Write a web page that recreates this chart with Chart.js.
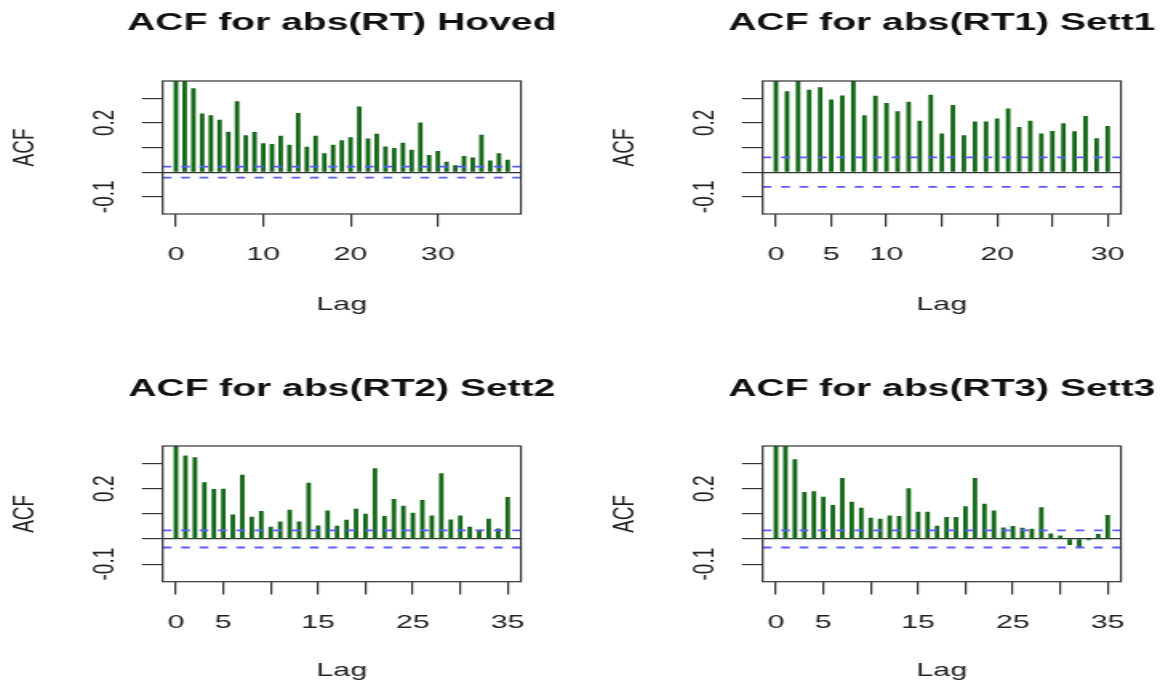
<!DOCTYPE html>
<html>
<head>
<meta charset="utf-8">
<script src="https://cdn.jsdelivr.net/npm/chart.js@4.4.1/dist/chart.umd.min.js"></script>
<style>
  body { margin: 0; background: #fff; }
  #wrap { position: relative; width: 1160px; height: 686px; overflow: hidden; }
  canvas { position: absolute; }
</style>
</head>
<body>
<div id="wrap">
  <canvas id="c1" width="360" height="343" style="left:0;top:0;width:576px;height:343px"></canvas>
  <canvas id="c2" width="350" height="343" style="left:600px;top:0;width:560px;height:343px"></canvas>
  <canvas id="c3" width="360" height="343" style="left:0;top:343px;width:576px;height:343px"></canvas>
  <canvas id="c4" width="350" height="343" style="left:600px;top:343px;width:560px;height:343px"></canvas>
</div>
<script>
// lags (categories)
const lagsHoved = [0,1,2,3,4,5,6,7,8,9,10,11,12,13,14,15,16,17,18,19,20,21,22,23,24,25,26,27,28,29,30,31,32,33,34,35,36,37,38];
const lagsSett1 = [0,1,2,3,4,5,6,7,8,9,10,11,12,13,14,15,16,17,18,19,20,21,22,23,24,25,26,27,28,29,30];
const lagsSett2 = [0,1,2,3,4,5,6,7,8,9,10,11,12,13,14,15,16,17,18,19,20,21,22,23,24,25,26,27,28,29,30,31,32,33,34,35];
const lagsSett3 = [0,1,2,3,4,5,6,7,8,9,10,11,12,13,14,15,16,17,18,19,20,21,22,23,24,25,26,27,28,29,30,31,32,33,34,35];

// ACF values
const acfHoved = [1, 0.45, 0.339, 0.237, 0.230, 0.211, 0.163, 0.286, 0.148, 0.162, 0.116, 0.113, 0.146, 0.110,
  0.239, 0.102, 0.146, 0.075, 0.110, 0.128, 0.140, 0.265, 0.135, 0.154, 0.103, 0.097, 0.118, 0.090, 0.200,
  0.068, 0.084, 0.041, 0.027, 0.064, 0.058, 0.150, 0.046, 0.075, 0.049];
const acfSett1 = [1, 0.327, 0.39, 0.333, 0.343, 0.294, 0.310, 0.38, 0.230, 0.309, 0.279, 0.246, 0.284, 0.207,
  0.313, 0.156, 0.271, 0.148, 0.204, 0.204, 0.216, 0.257, 0.182, 0.207, 0.155, 0.166, 0.197, 0.165, 0.227,
  0.136, 0.186];
const acfSett2 = [1, 0.331, 0.324, 0.224, 0.198, 0.199, 0.096, 0.254, 0.087, 0.110, 0.047, 0.068, 0.115, 0.068,
  0.222, 0.052, 0.112, 0.051, 0.075, 0.119, 0.099, 0.280, 0.090, 0.158, 0.131, 0.103, 0.154, 0.092, 0.260,
  0.076, 0.092, 0.047, 0.035, 0.079, 0.040, 0.166];
const acfSett3 = [1, 0.42, 0.316, 0.186, 0.189, 0.167, 0.134, 0.241, 0.147, 0.123, 0.083, 0.079, 0.092, 0.090,
  0.201, 0.107, 0.107, 0.051, 0.086, 0.086, 0.129, 0.241, 0.139, 0.112, 0.044, 0.050, 0.043, 0.039, 0.125,
  0.020, 0.013, -0.023, -0.031, -0.004, 0.019, 0.094];

// 95% bounds (blue dashed lines)
const ciHoved = 0.022;
const ciSett1 = 0.06;
const ciSett2 = 0.034;
const ciSett3 = 0.034;

// tick values and the labels R kept
const yTickValues = [-0.1, 0, 0.1, 0.2, 0.3];
const yTickLabels = ['-0.1', '', '', '0.2', ''];
const xTicksHoved = [0, 10, 20, 30];
const xLabelsHoved = ['0', '10', '20', '30'];
const xTicksSett1 = [0, 5, 10, 15, 20, 25, 30];
const xLabelsSett1 = ['0', '5', '10', '', '20', '', '30'];
const xTicksSett23 = [0, 5, 10, 15, 20, 25, 30, 35];
const xLabelsSett23 = ['0', '5', '', '15', '', '25', '', '35'];

const FONT = '"Liberation Sans", Arial, Helvetica, sans-serif';

// box around plot region, like R's box()
const boxPlugin = {
  id: 'box',
  afterDatasetsDraw(chart) {
    const a = chart.chartArea, ctx = chart.ctx;
    ctx.save();
    ctx.setLineDash([]);
    ctx.strokeStyle = '#333';
    ctx.lineWidth = 1.2;
    ctx.strokeRect(a.left, a.top, a.right - a.left, a.bottom - a.top);
    ctx.restore();
  }
};

// main title centred over the plot region
const mainTitle = {
  id: 'mainTitle',
  afterDraw(chart, args, opts) {
    const a = chart.chartArea, ctx = chart.ctx;
    ctx.save();
    ctx.font = 'bold 24.4px ' + FONT;
    ctx.fillStyle = '#111';
    ctx.textAlign = 'center';
    ctx.textBaseline = 'middle';
    ctx.fillText(opts.text, (a.left + a.right) / 2, opts.y);
    ctx.restore();
  }
};

function acfChart(id, title, lags, acf, ci, xTicks, xLabels, lay) {
  const maxLag = lags[lags.length - 1];
  const xMin = -0.04 * maxLag, xMax = 1.04 * maxLag;
  const ciLine = (y) => ({
    type: 'line',
    data: [{x: xMin, y: y}, {x: xMax, y: y}],
    borderColor: '#5a5aff',
    backgroundColor: '#5a5aff',
    borderWidth: 1.8,
    borderDash: [5.5, 6],
    pointRadius: 0,
    fill: false
  });

  new Chart(document.getElementById(id), {
    type: 'bar',
    data: {
      datasets: [
        ciLine(ci),
        ciLine(-ci),
        {
          label: 'ACF',
          data: lags.map((l, i) => ({x: l, y: acf[i]})),
          backgroundColor: '#17691a',
          barThickness: 2.2
        }
      ]
    },
    options: {
      responsive: false,
      animation: false,
      devicePixelRatio: 1,
      layout: { padding: { top: lay.top, right: lay.right, left: 0, bottom: 0 } },
      plugins: {
        legend: { display: false },
        tooltip: { enabled: false },
        mainTitle: { text: title, y: lay.titleY }
      },
      scales: {
        x: {
          type: 'linear',
          min: xMin,
          max: xMax,
          offset: false,
          afterBuildTicks: s => { s.ticks = xTicks.map(v => ({value: v})); },
          afterFit: s => { s.height = lay.xh; },
          ticks: {
            autoSkip: false,
            maxRotation: 0,
            padding: 16.7,
            color: '#222',
            font: { family: FONT, size: 19 },
            callback: (v, i) => xLabels[i]
          },
          grid: { offset: false, drawOnChartArea: false, tickLength: 12.7, color: '#333', lineWidth: 1.2 },
          border: { display: false },
          title: {
            display: true,
            text: 'Lag',
            color: '#222',
            font: { family: FONT, size: 19 },
            padding: { top: 0, bottom: lay.lagPad }
          }
        },
        y: {
          min: -0.17,
          max: 0.37,
          afterBuildTicks: s => { s.ticks = yTickValues.map(v => ({value: v})); },
          afterFit: s => { s.width = 101.7; },
          ticks: {
            autoSkip: false,
            minRotation: 90,
            maxRotation: 90,
            crossAlign: 'center',
            padding: 6.7,
            color: '#222',
            font: { family: FONT, size: 19 },
            callback: (v, i) => yTickLabels[i]
          },
          // only the zero line is drawn inside the plot
          grid: {
            drawOnChartArea: true,
            tickLength: 13,
            tickColor: '#333',
            tickWidth: 1.2,
            lineWidth: 1.2,
            color: c => (c.tick && c.tick.value === 0 ? '#333' : 'rgba(0,0,0,0)')
          },
          border: { display: false },
          title: {
            display: true,
            text: 'ACF',
            color: '#222',
            font: { family: FONT, size: 19 },
            padding: { top: 4.7, bottom: 0 }
          }
        }
      }
    },
    plugins: [boxPlugin, mainTitle]
  });
}

const topRow = { top: 81, xh: 129, titleY: 23, lagPad: 26.6 };
const bottomRow = { top: 103, xh: 104.3, titleY: 46, lagPad: 3.6 };

acfChart('c1', 'ACF for abs(RT) Hoved', lagsHoved, acfHoved, ciHoved, xTicksHoved, xLabelsHoved,
  Object.assign({ right: 34.4 }, topRow));
acfChart('c2', 'ACF for abs(RT1) Sett1', lagsSett1, acfSett1, ciSett1, xTicksSett1, xLabelsSett1,
  Object.assign({ right: 24.4 }, topRow));
acfChart('c3', 'ACF for abs(RT2) Sett2', lagsSett2, acfSett2, ciSett2, xTicksSett23, xLabelsSett23,
  Object.assign({ right: 34.4 }, bottomRow));
acfChart('c4', 'ACF for abs(RT3) Sett3', lagsSett3, acfSett3, ciSett3, xTicksSett23, xLabelsSett23,
  Object.assign({ right: 24.4 }, bottomRow));
</script>
</body>
</html>
